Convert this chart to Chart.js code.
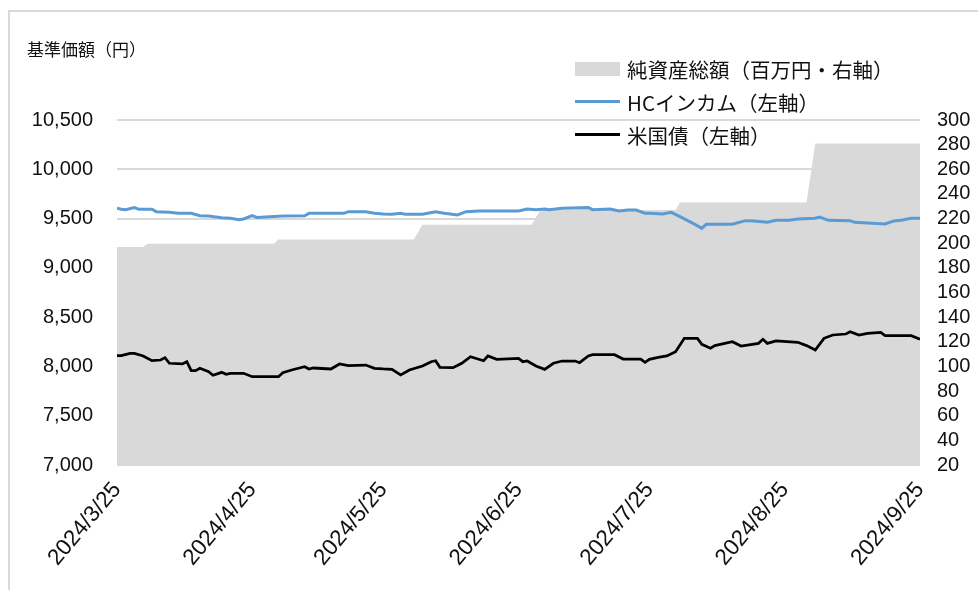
<!DOCTYPE html>
<html>
<head>
<meta charset="utf-8">
<script src="https://cdn.jsdelivr.net/npm/chart.js@4.4.1/dist/chart.umd.min.js"></script>
<style>
  html, body { margin: 0; padding: 0; background: #fff; }
  #wrap { position: relative; width: 978px; height: 590px; overflow: hidden; }
  #frame { position: absolute; left: 8px; top: 10px; width: 1000px; height: 640px; border: 2px solid #d9d9d9; box-sizing: border-box; }
  #chart { position: absolute; left: 0; top: 0; }
  #ytitle { position: absolute; left: 27px; top: 36px; font: 17px "Noto Sans CJK JP", sans-serif; color: #111; }
  #legend { position: absolute; left: 575px; top: 52px; font: 20.5px "Noto Sans CJK JP", sans-serif; color: #111; }
  .row { position: relative; height: 33px; display: flex; align-items: center; }
  .sw { width: 45px; margin-right: 7px; }
</style>
</head>
<body>
<div id="wrap">
  <div id="frame"></div>
  <canvas id="chart" width="978" height="590"></canvas>
  <div id="ytitle">基準価額（円）</div>
  <div id="legend"></div>
</div>
<script>
// x軸: 2024/3/25 からの経過日数
const tickDays = [0, 31, 61, 92, 122, 153, 184];
const tickLabels = ['2024/3/25', '2024/4/25', '2024/5/25', '2024/6/25', '2024/7/25', '2024/8/25', '2024/9/25'];

// 純資産総額（百万円・右軸）
const navDays   = [0, 6, 7, 36, 37, 68, 70, 95, 97, 128, 129, 158, 160, 184];
const navValues = [197, 197, 199.5, 199.5, 203, 203, 215, 215, 227, 227, 233, 233, 281, 281];

// HCインカム（左軸）
const hcDays = [0, 1, 2, 4, 5, 8, 9, 12, 14, 17, 19, 21, 24, 26, 28, 29, 31, 32, 35, 38, 43, 44, 52, 53, 57, 59, 61, 63, 65, 66, 70, 73, 75, 78, 80, 83, 92, 94, 96, 98, 99, 102, 108, 109, 113, 115, 117, 119, 121, 122, 125, 127, 129, 132, 134, 135, 137, 141, 144, 146, 149, 151, 154, 156, 160, 161, 163, 168, 169, 172, 176, 178, 180, 182, 184];
const hcValues = [9604, 9594, 9590, 9611, 9594, 9594, 9570, 9563, 9553, 9553, 9529, 9526, 9509, 9503, 9489, 9496, 9529, 9512, 9519, 9526, 9529, 9553, 9553, 9570, 9570, 9553, 9546, 9543, 9553, 9543, 9543, 9570, 9553, 9536, 9570, 9577, 9577, 9597, 9590, 9597, 9590, 9604, 9611, 9590, 9597, 9577, 9587, 9587, 9553, 9553, 9546, 9563, 9519, 9452, 9401, 9442, 9442, 9442, 9479, 9476, 9462, 9482, 9482, 9496, 9503, 9516, 9482, 9479, 9462, 9455, 9445, 9476, 9486, 9503, 9503];

// 米国債（左軸）
const ustDays = [0, 1, 3, 4, 6, 8, 10, 11, 12, 15, 16, 17, 18, 19, 21, 22, 24, 25, 26, 29, 31, 37, 38, 40, 43, 44, 45, 49, 51, 53, 57, 59, 61, 63, 65, 67, 70, 72, 73, 74, 77, 79, 81, 84, 85, 87, 92, 93, 94, 96, 98, 100, 102, 105, 106, 108, 109, 114, 116, 120, 121, 122, 124, 126, 128, 130, 133, 134, 136, 137, 141, 143, 147, 148, 149, 151, 156, 158, 160, 162, 164, 167, 168, 170, 172, 175, 176, 182, 184];
const ustValues = [8109, 8109, 8133, 8133, 8106, 8058, 8065, 8089, 8032, 8025, 8048, 7957, 7957, 7981, 7947, 7910, 7940, 7920, 7930, 7930, 7896, 7896, 7937, 7964, 7997, 7974, 7984, 7974, 8025, 8008, 8014, 7981, 7974, 7970, 7913, 7964, 8004, 8048, 8058, 7991, 7987, 8032, 8099, 8058, 8106, 8072, 8082, 8048, 8055, 8004, 7970, 8032, 8055, 8055, 8038, 8106, 8119, 8119, 8075, 8075, 8041, 8072, 8092, 8106, 8149, 8285, 8285, 8224, 8184, 8211, 8251, 8207, 8234, 8275, 8234, 8258, 8245, 8211, 8167, 8285, 8319, 8329, 8352, 8319, 8336, 8346, 8312, 8312, 8275];

const pts = (xs, ys) => xs.map((x, i) => ({ x, y: ys[i] }));

const tickFont = { family: '"Liberation Sans", Arial, sans-serif', size: 20 };
const textColor = '#111';

const chart = new Chart(document.getElementById('chart'), {
    type: 'line',
    data: {
        datasets: [
            {
                label: '純資産総額（百万円・右軸）',
                data: pts(navDays, navValues),
                yAxisID: 'y1',
                fill: 'start',
                backgroundColor: '#d9d9d9',
                borderWidth: 0,
                pointRadius: 0,
                order: 3
            },
            {
                label: 'HCインカム（左軸）',
                data: pts(hcDays, hcValues),
                yAxisID: 'y',
                borderColor: '#5b9bd5',
                borderWidth: 3,
                pointRadius: 0,
                fill: false,
                order: 2
            },
            {
                label: '米国債（左軸）',
                data: pts(ustDays, ustValues),
                yAxisID: 'y',
                borderColor: '#000000',
                borderWidth: 2.75,
                pointRadius: 0,
                fill: false,
                order: 1
            }
        ]
    },
    options: {
        responsive: false,
        devicePixelRatio: 1,
        animation: false,
        layout: { padding: { top: 120, left: 0, right: 0, bottom: 0 } },
        plugins: { legend: { display: false }, tooltip: { enabled: false } },
        scales: {
            x: {
                type: 'linear',
                min: 0,
                max: 184,
                grid: { display: false },
                border: { display: false },
                afterBuildTicks: s => { s.ticks = tickDays.map(v => ({ value: v })); },
                afterFit: s => { s.height = 125; },
                ticks: {
                    autoSkip: false,
                    minRotation: 50,
                    maxRotation: 50,
                    padding: 4,
                    color: textColor,
                    font: { family: tickFont.family, size: 22.5 },
                    callback: v => tickLabels[tickDays.indexOf(v)]
                }
            },
            y: {
                position: 'left',
                min: 7000,
                max: 10500,
                grid: { color: '#d9d9d9', lineWidth: 2, drawTicks: false },
                border: { display: false },
                afterFit: s => { s.width = 117; },
                ticks: {
                    stepSize: 500,
                    padding: 24,
                    color: textColor,
                    font: tickFont,
                    callback: v => v.toLocaleString('en-US')
                }
            },
            y1: {
                position: 'right',
                min: 20,
                max: 300,
                grid: { display: false, drawTicks: false },
                border: { display: false },
                afterFit: s => { s.width = 58; },
                ticks: {
                    stepSize: 20,
                    autoSkip: false,
                    padding: 17,
                    color: textColor,
                    font: tickFont
                }
            }
        }
    }
});

// 凡例（プロット領域に重ねて表示）
const legend = document.getElementById('legend');
chart.data.datasets.forEach(ds => {
    const row = document.createElement('div');
    row.className = 'row';
    const sw = document.createElement('span');
    sw.className = 'sw';
    if (ds.fill === 'start') {
        sw.style.height = '14px';
        sw.style.background = ds.backgroundColor;
    } else {
        sw.style.height = ds.borderWidth + 'px';
        sw.style.background = ds.borderColor;
    }
    const txt = document.createElement('span');
    txt.textContent = ds.label;
    row.appendChild(sw);
    row.appendChild(txt);
    legend.appendChild(row);
});
</script>
</body>
</html>
